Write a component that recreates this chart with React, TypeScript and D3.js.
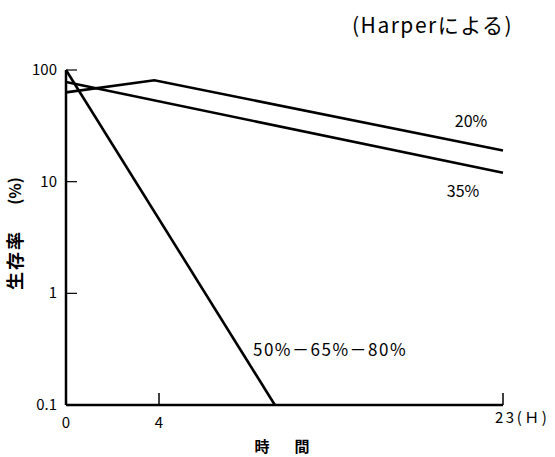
import React from "react";
import * as d3 from "d3";

// hours on the x axis (axis is compressed after 4h)
const xTicks = [0, 4, 23];
const yTicks = [100, 10, 1, 0.1];
const yTickLabels = ["100", "10", "1", "0.1"];

// survival (%) by humidity
const hours20 = [0, 3.8, 23];
const surv20 = [63, 81, 19];
const hours35 = [0, 23];
const surv35 = [78, 12];
const hoursHigh = [0, 10.4];
const survHigh = [100, 0.1];

const FONT = "'Noto Sans CJK JP', 'DejaVu Sans', sans-serif";

const App = () => {
  const svgRef = React.useRef(null);
  const width = 555;
  const height = 457;

  React.useEffect(() => {
    const x = d3.scaleLinear().domain([0, 4, 23]).range([66, 159, 503]);
    const y = d3.scaleLog().domain([0.1, 100]).range([405, 70]);

    const svg = d3.select(svgRef.current);
    svg.selectAll("*").remove();

    const line = d3
      .line<[number, number]>()
      .x((d) => x(d[0]))
      .y((d) => y(d[1]));

    const txt = (tx, ty, s, size, anchor = "middle", weight = "normal", ls = 0) =>
      svg
        .append("text")
        .attr("x", tx)
        .attr("y", ty)
        .attr("text-anchor", anchor)
        .attr("dominant-baseline", "middle")
        .attr("font-family", FONT)
        .attr("font-size", size)
        .attr("font-weight", weight)
        .attr("letter-spacing", ls)
        .text(s);

    // axes
    svg
      .append("line")
      .attr("x1", x(0))
      .attr("x2", x(0))
      .attr("y1", y(100))
      .attr("y2", y(0.1))
      .attr("stroke", "#000")
      .attr("stroke-width", 2.5);
    svg
      .append("line")
      .attr("x1", x(0))
      .attr("x2", x(23))
      .attr("y1", y(0.1))
      .attr("y2", y(0.1))
      .attr("stroke", "#000")
      .attr("stroke-width", 2.5);

    // y ticks (inward)
    yTicks.slice(0, 3).forEach((t) => {
      svg
        .append("line")
        .attr("x1", x(0))
        .attr("x2", x(0) + 11)
        .attr("y1", y(t))
        .attr("y2", y(t))
        .attr("stroke", "#000")
        .attr("stroke-width", 1.2);
    });
    yTicks.forEach((t, i) => {
      txt(57, y(t) + 1, yTickLabels[i], 15, "end");
    });

    // x ticks (upward)
    xTicks.slice(1).forEach((t) => {
      svg
        .append("line")
        .attr("x1", x(t))
        .attr("x2", x(t))
        .attr("y1", y(0.1))
        .attr("y2", y(0.1) - 12)
        .attr("stroke", "#000")
        .attr("stroke-width", 1.5);
    });
    txt(x(0), 424, "0", 15);
    txt(x(4), 424, "4", 15);
    txt(x(23) - 8, 419, "23(Ｈ)", 15, "start", "normal", 2.5);

    // curves
    const series = [
      d3.zip(hours20, surv20),
      d3.zip(hours35, surv35),
      d3.zip(hoursHigh, survHigh),
    ];
    series.forEach((s) => {
      svg
        .append("path")
        .datum(s as [number, number][])
        .attr("fill", "none")
        .attr("stroke", "#000")
        .attr("stroke-width", 2.6)
        .attr("d", line);
    });

    // curve labels
    txt(471, 123, "20%", 16);
    txt(463, 193, "35%", 16);
    txt(253, 351, "50%－65%－80%", 17, "start", "normal", 1.5);

    // titles
    txt(262, 448, "時", 15, "middle", "bold");
    txt(302, 448, "間", 15, "middle", "bold");
    svg
      .append("g")
      .attr("transform", "translate(17,0)")
      .call((g) => {
        g.append("text")
          .attr("transform", "translate(0,260) rotate(-90)")
          .attr("text-anchor", "middle")
          .attr("dominant-baseline", "middle")
          .attr("font-family", FONT)
          .attr("font-size", 18)
          .attr("font-weight", "bold")
          .attr("letter-spacing", 2)
          .text("生存率");
        g.append("text")
          .attr("transform", "translate(0,191) rotate(-90)")
          .attr("text-anchor", "middle")
          .attr("dominant-baseline", "middle")
          .attr("font-family", FONT)
          .attr("font-size", 16)
          .attr("font-weight", "bold")
          .text("(%)");
      });
    txt(352, 27, "(Harperによる)", 21, "start", "normal", 1.5);
  }, []);

  return (
    <svg
      ref={svgRef}
      width={width}
      height={height}
      style={{ position: "absolute", left: 0, top: 0, background: "#fff" }}
    />
  );
};

export default App;
